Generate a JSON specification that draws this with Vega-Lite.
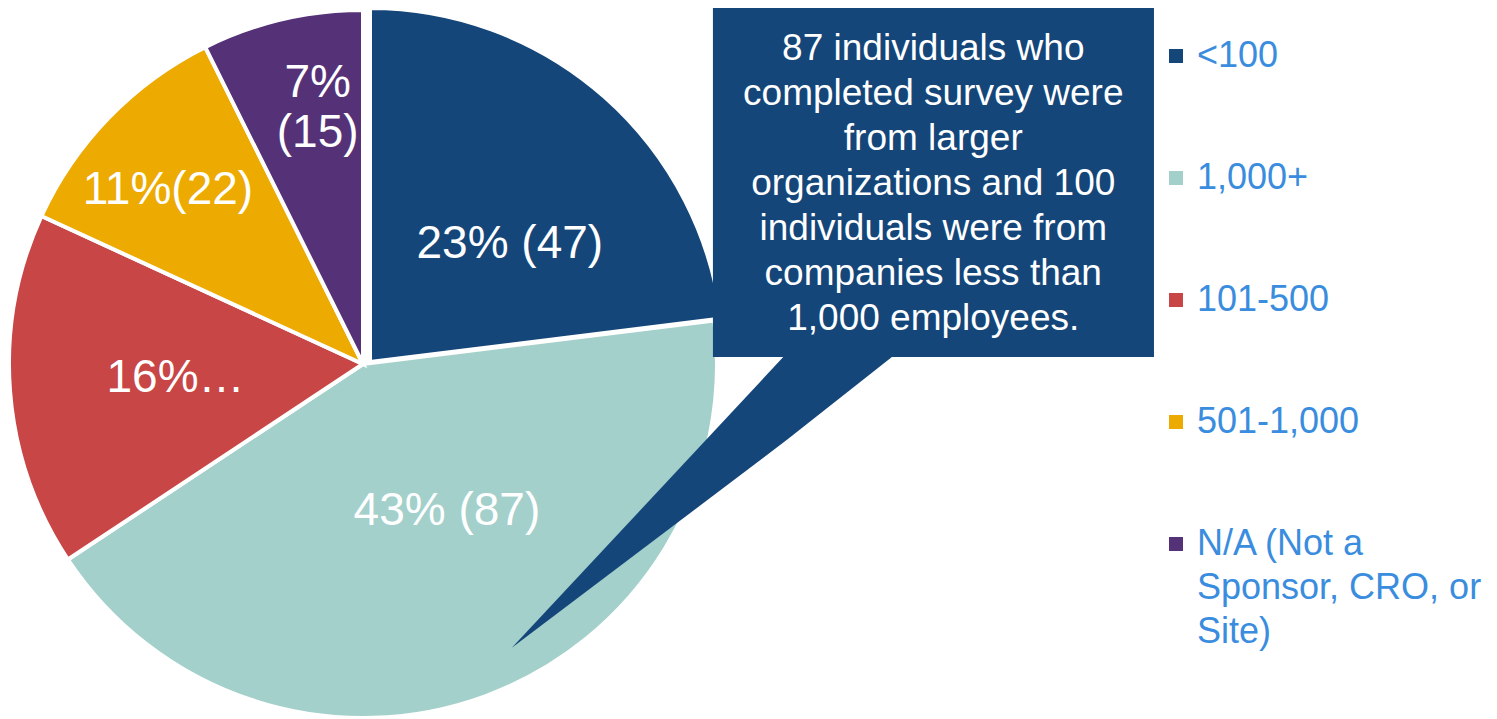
{
  "$schema": "https://vega.github.io/schema/vega-lite/v6.json",
  "width": 726,
  "height": 726,
  "padding": 0,
  "background": "white",
  "config": {"view": {"stroke": null}, "font": "Liberation Sans", "style": {"guide-label": {"lineHeight": 44}}},
  "datasets": {
    "slices": [
      {"cat": "<100", "n": 47, "order": 1, "label": "23% (47)"},
      {"cat": "1,000+", "n": 87, "order": 2, "label": "43% (87)"},
      {"cat": "101-500", "n": 33, "order": 3, "label": "16%…"},
      {"cat": "501-1,000", "n": 22, "order": 4, "label": "11%(22)"},
      {"cat": "N/A (Not a Sponsor, CRO, or Site)", "n": 15, "order": 5, "label": "7%\n(15)"}
    ],
    "tail": [
      {"u": 0.410, "v": -0.782, "v2": -0.782},
      {"u": 1.168, "v": 0.03, "v2": -0.209},
      {"u": 1.471, "v": 0.03, "v2": 0.03}
    ],
    "box": [{"u": 0.964, "u2": 2.179, "v": 0.981, "v2": 0.019}],
    "note": [{"u": 1.571, "v": 0.868, "t": "87 individuals who\ncompleted survey were\nfrom larger\norganizations and 100\nindividuals were from\ncompanies less than\n1,000 employees."}]
  },
  "layer": [
    {
      "data": {"name": "slices"},
      "transform": [
        {"stack": "n", "groupby": [], "sort": [{"field": "order"}], "as": ["t0", "t1"]},
        {"filter": "datum.cat != '<100'"}
      ],
      "mark": {"type": "arc", "radius": 354, "stroke": "white", "strokeWidth": 4},
      "encoding": {
        "theta": {"field": "t0", "type": "quantitative", "scale": {"domain": [0, 204]}},
        "theta2": {"field": "t1"},
        "color": {
          "field": "cat", "type": "nominal",
          "scale": {
            "domain": ["<100", "1,000+", "101-500", "501-1,000", "N/A (Not a Sponsor, CRO, or Site)"],
            "range": ["#14467A", "#A3D0CB", "#C84646", "#EDAA00", "#553278"]
          },
          "legend": {
            "orient": "none", "legendX": 1158, "legendY": 37, "title": null,
            "symbolType": "square", "symbolSize": 196, "symbolStrokeWidth": 0,
            "labelFontSize": 36, "labelColor": "#3A8DDE", "labelFont": "Liberation Sans",
            "labelOffset": 3, "rowPadding": 86, "labelLimit": 500, "padding": 0,
            "labelExpr": "datum.label == 'N/A (Not a Sponsor, CRO, or Site)' ? ['N/A (Not a', 'Sponsor, CRO, or', 'Site)'] : datum.label"
          }
        }
      }
    },
    {
      "data": {"name": "slices"},
      "transform": [
        {"stack": "n", "groupby": [], "sort": [{"field": "order"}], "as": ["t0", "t1"]},
        {"filter": "datum.cat == '<100'"}
      ],
      "mark": {"type": "arc", "radius": 354, "stroke": "white", "strokeWidth": 4, "xOffset": 7, "yOffset": -2},
      "encoding": {
        "theta": {"field": "t0", "type": "quantitative", "scale": {"domain": [0, 204]}},
        "theta2": {"field": "t1"},
        "color": {"field": "cat", "type": "nominal"}
      }
    },
    {
      "data": {"name": "tail"},
      "mark": {"type": "area", "color": "#14467A", "orient": "vertical"},
      "encoding": {
        "x": {"field": "u", "type": "quantitative", "scale": {"domain": [-1, 1], "nice": false, "zero": false}, "axis": null},
        "y": {"field": "v", "type": "quantitative", "scale": {"domain": [-1, 1], "nice": false, "zero": false}, "axis": null},
        "y2": {"field": "v2"}
      }
    },
    {
      "data": {"name": "box"},
      "mark": {"type": "rect", "color": "#14467A"},
      "encoding": {
        "x": {"field": "u", "type": "quantitative", "scale": {"domain": [-1, 1], "nice": false, "zero": false}, "axis": null},
        "x2": {"field": "u2"},
        "y": {"field": "v", "type": "quantitative", "scale": {"domain": [-1, 1], "nice": false, "zero": false}, "axis": null},
        "y2": {"field": "v2"}
      }
    },
    {
      "data": {"name": "note"},
      "mark": {"type": "text", "color": "white", "fontSize": 37, "lineHeight": 45, "lineBreak": "\n", "align": "center", "baseline": "middle", "font": "Liberation Sans"},
      "encoding": {
        "x": {"field": "u", "type": "quantitative", "scale": {"domain": [-1, 1], "nice": false, "zero": false}, "axis": null},
        "y": {"field": "v", "type": "quantitative", "scale": {"domain": [-1, 1], "nice": false, "zero": false}, "axis": null},
        "text": {"field": "t", "type": "nominal"}
      }
    },
    {
      "data": {"name": "slices"},
      "mark": {
        "type": "text", "color": "white", "fontSize": 46, "lineHeight": 50, "lineBreak": "\n",
        "align": "center", "baseline": "middle", "font": "Liberation Sans",
        "radius": {"expr": "datum.cat == '<100' ? 187 : datum.cat == '1,000+' ? 167 : datum.cat == '501-1,000' ? 262 : datum.cat == '101-500' ? 188 : 259"},
        "dx": {"expr": "datum.cat == '<100' ? 23 : datum.cat == '1,000+' ? 26 : datum.cat == '501-1,000' ? -7 : datum.cat == '101-500' ? 0 : 14"},
        "dy": {"expr": "datum.cat == '<100' ? 20 : datum.cat == '1,000+' ? -10 : datum.cat == '501-1,000' ? 8 : datum.cat == '101-500' ? 0 : -29"}
      },
      "encoding": {
        "theta": {"field": "n", "type": "quantitative", "stack": true, "scale": {"domain": [0, 204]}},
        "order": {"field": "order"},
        "text": {"field": "label", "type": "nominal"}
      }
    }
  ]
}
